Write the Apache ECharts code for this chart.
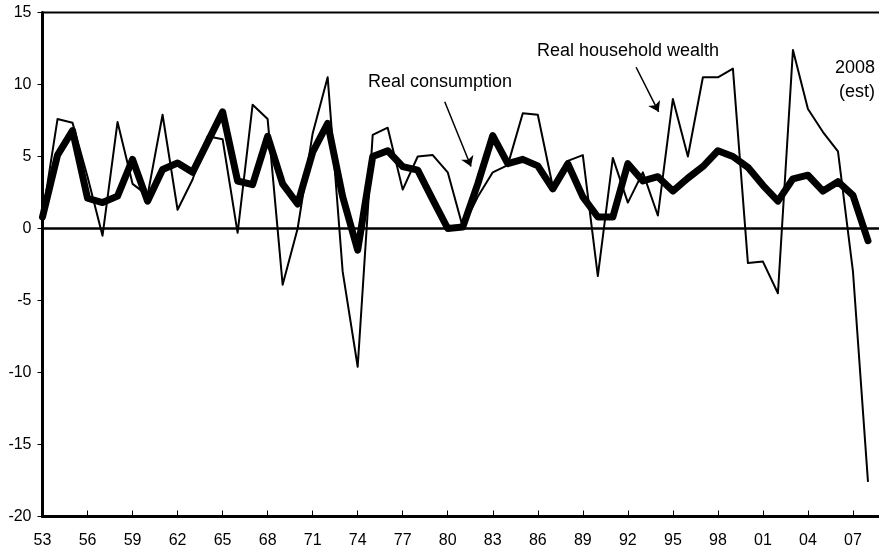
<!DOCTYPE html>
<html>
<head>
<meta charset="utf-8">
<script src="https://cdn.jsdelivr.net/npm/echarts@6/dist/echarts.min.js"></script>
<style>
  html, body { margin: 0; padding: 0; background: #fff; }
  #chart { width: 879px; height: 547px; }
</style>
</head>
<body>
<div id="chart"></div>
<script>
// years 1953 - 2008
var years = [1953, 1954, 1955, 1956, 1957, 1958, 1959, 1960, 1961, 1962,
  1963, 1964, 1965, 1966, 1967, 1968, 1969, 1970, 1971, 1972,
  1973, 1974, 1975, 1976, 1977, 1978, 1979, 1980, 1981, 1982,
  1983, 1984, 1985, 1986, 1987, 1988, 1989, 1990, 1991, 1992,
  1993, 1994, 1995, 1996, 1997, 1998, 1999, 2000, 2001, 2002,
  2003, 2004, 2005, 2006, 2007, 2008];

// real household wealth, % change (thin line)
var wealth = [0.9, 7.6, 7.35, 3.6, -0.5, 7.4, 3.1, 2.3, 7.9, 1.3,
  3.4, 6.4, 6.2, -0.3, 8.6, 7.6, -3.9, 0.0, 6.6, 10.5,
  -3.0, -9.6, 6.5, 7.0, 2.7, 5.0, 5.1, 3.9, 0.1, 2.2,
  3.9, 4.4, 8.0, 7.9, 2.9, 4.7, 5.1, -3.3, 4.9, 1.8,
  3.9, 0.9, 9.0, 5.0, 10.5, 10.5, 11.1, -2.4, -2.3, -4.5,
  12.4, 8.3, 6.7, 5.35, -3.0, -17.6];

// real consumption, % change (thick line)
var consumption = [0.8, 5.1, 6.8, 2.1, 1.8, 2.25, 4.8, 1.9, 4.1, 4.55,
  3.9, 6.0, 8.1, 3.3, 3.05, 6.4, 3.1, 1.7, 5.3, 7.3,
  2.2, -1.5, 5.0, 5.4, 4.3, 4.05, 2.0, 0.0, 0.1, 3.1,
  6.45, 4.5, 4.8, 4.35, 2.75, 4.5, 2.2, 0.8, 0.8, 4.5,
  3.3, 3.6, 2.6, 3.5, 4.3, 5.4, 5.0, 4.25, 3.0, 1.9,
  3.45, 3.7, 2.6, 3.25, 2.3, -0.85];

var font = '"Liberation Sans", Arial, sans-serif';

function pairs(vals) {
  return years.map(function (y, i) { return [y, vals[i]]; });
}

var chart = echarts.init(document.getElementById('chart'));
chart.setOption({
  animation: false,
  backgroundColor: '#fff',
  grid: {
    left: 42.5, top: 12.5, width: 840.5, height: 504,
    outerBoundsMode: 'none',
    containLabel: false,
    show: true, borderColor: '#000', borderWidth: 2
  },
  xAxis: {
    type: 'value',
    min: 1953, max: 2009, interval: 3,
    axisLine: { onZero: false, lineStyle: { color: '#000', width: 3 } },
    axisTick: { inside: true, length: 6, lineStyle: { color: '#000', width: 1 } },
    axisLabel: {
      margin: 16, color: '#000', fontSize: 16, fontFamily: font,
      showMaxLabel: false,
      formatter: function (v) {
        return (v - 1953) % 3 === 0 ? String(v).slice(2) : '';
      }
    },
    splitLine: { show: false }
  },
  yAxis: {
    type: 'value',
    min: -20, max: 15, interval: 5,
    axisLine: { show: true, onZero: false, lineStyle: { color: '#000', width: 3 } },
    axisTick: { show: true, length: 5, lineStyle: { color: '#000', width: 1 } },
    axisLabel: { margin: 11, color: '#000', fontSize: 16, fontFamily: font },
    splitLine: { show: false }
  },
  series: [
    {
      name: 'Real household wealth',
      type: 'line',
      data: pairs(wealth),
      symbol: 'none',
      lineStyle: { color: '#000', width: 2, join: 'round' },
      markLine: {
        silent: true,
        symbol: ['none', 'none'],
        label: { show: false },
        lineStyle: { color: '#000', width: 2.5, type: 'solid' },
        data: [{ yAxis: 0 }]
      }
    },
    {
      name: 'Real consumption',
      type: 'line',
      data: pairs(consumption),
      symbol: 'none',
      lineStyle: { color: '#000', width: 7, join: 'round', cap: 'round' },
      markLine: {
        silent: true,
        symbol: ['none', 'arrow'],
        symbolSize: 10,
        label: { show: false },
        lineStyle: { color: '#000', width: 1.5, type: 'solid' },
        data: [
          [{ coord: [1979.8, 8.8] }, { coord: [1981.55, 4.3] }],
          [{ coord: [1992.55, 11.2] }, { coord: [1994.05, 8.1] }]
        ]
      }
    }
  ],
  graphic: [
    { type: 'text', x: 368, y: 82, style: { text: 'Real consumption', font: '18px ' + font, fill: '#000', textAlign: 'left', textVerticalAlign: 'middle' } },
    { type: 'text', x: 537, y: 51.5, style: { text: 'Real household wealth', font: '18px ' + font, fill: '#000', textAlign: 'left', textVerticalAlign: 'middle' } },
    { type: 'text', x: 875, y: 68.5, style: { text: '2008', font: '18px ' + font, fill: '#000', textAlign: 'right', textVerticalAlign: 'middle' } },
    { type: 'text', x: 875, y: 92, style: { text: '(est)', font: '18px ' + font, fill: '#000', textAlign: 'right', textVerticalAlign: 'middle' } }
  ]
});
</script>
</body>
</html>
